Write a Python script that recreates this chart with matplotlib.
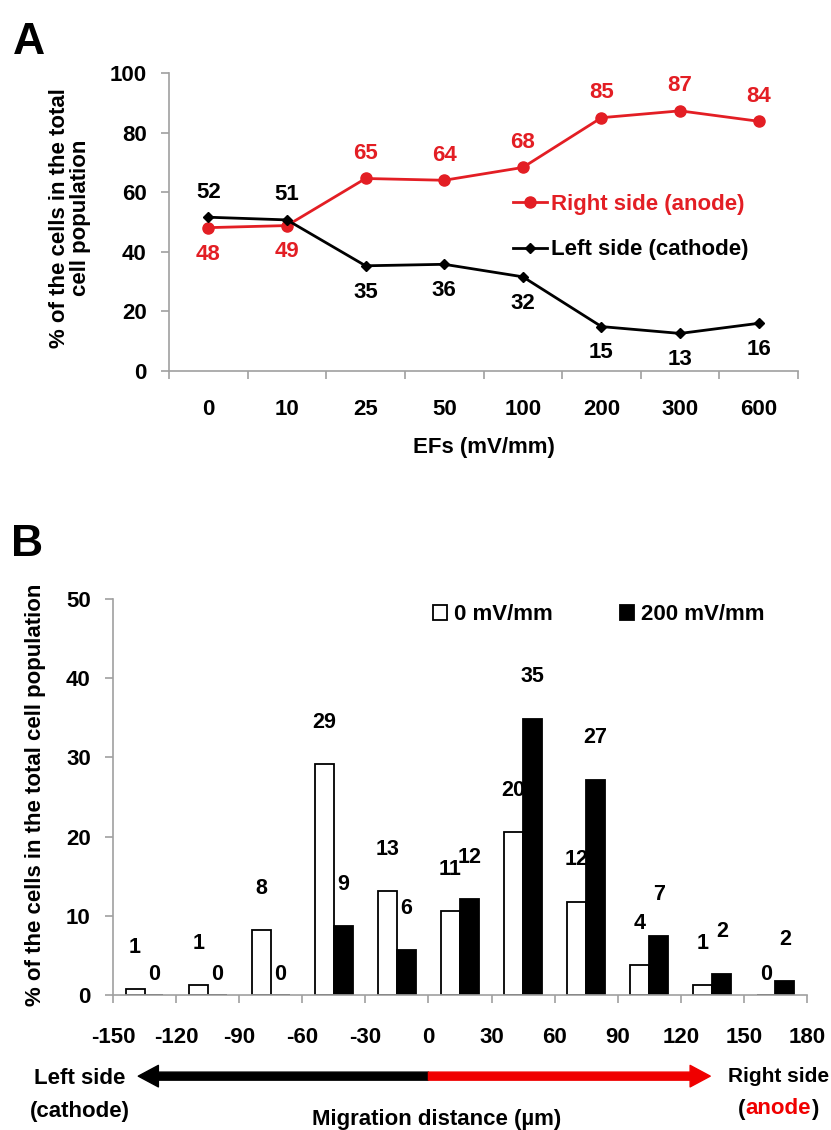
import numpy as np
import matplotlib.pyplot as plt

plt.rcParams['font.family'] = ['Liberation Sans', 'DejaVu Sans']
plt.rcParams['font.weight'] = 'bold'
plt.rcParams['font.size'] = 16
plt.rcParams['axes.unicode_minus'] = False

# ---- panel A data ----
ef_labels = ['0', '10', '25', '50', '100', '200', '300', '600']
right_side = [48.1, 48.8, 64.6, 64.0, 68.3, 85.0, 87.3, 83.8]
left_side = [51.6, 50.7, 35.3, 35.8, 31.6, 14.9, 12.6, 16.0]
right_text = [48, 49, 65, 64, 68, 85, 87, 84]
left_text = [52, 51, 35, 36, 32, 15, 13, 16]

# ---- panel B data ----
dist_ticks = [-150, -120, -90, -60, -30, 0, 30, 60, 90, 120, 150, 180]
field_0 = [0.7, 1.3, 8.2, 29.2, 13.1, 10.6, 20.6, 11.8, 3.8, 1.3, 0.0]
field_200 = [0.0, 0.0, 0.0, 8.7, 5.7, 12.1, 34.9, 27.2, 7.4, 2.7, 1.8]
field_0_text = [1, 1, 8, 29, 13, 11, 20, 12, 4, 1, 0]
field_200_text = [0, 0, 0, 9, 6, 12, 35, 27, 7, 2, 2]

RED = '#E31E24'
ARROW_RED = '#F00000'
GRID = '#A0A0A0'

fig = plt.figure(figsize=(8.31, 11.3), dpi=100)


def style_axes(ax):
    for s in ['top', 'right']:
        ax.spines[s].set_visible(False)
    for s in ['left', 'bottom']:
        ax.spines[s].set_color(GRID)
        ax.spines[s].set_linewidth(1.2)
    ax.tick_params(color=GRID, width=1.2, length=6, labelsize=16)


# ================= A =================
axA = fig.add_axes([0.2034, 0.6717, 0.7569, 0.2637])
x = np.arange(len(ef_labels))
axA.plot(x, right_side, color=RED, lw=2, marker='o', ms=8, label='Right side (anode)')
axA.plot(x, left_side, color='black', lw=2, marker='D', ms=5, label='Left side (cathode)')
axA.set_xlim(-0.5, len(ef_labels) - 0.5)
axA.set_ylim(0, 100)
axA.set_yticks(range(0, 101, 20))
axA.set_xticks(x)
axA.set_xticklabels(ef_labels)
axA.set_xticks(np.arange(-0.5, len(ef_labels), 1), minor=True)
style_axes(axA)
axA.tick_params(axis='x', which='major', length=0, pad=20)
axA.tick_params(axis='x', which='minor', length=6, color=GRID, width=1.2)
axA.tick_params(axis='y', pad=10)

for i in range(len(x)):
    up_r = right_side[i] > left_side[i]
    axA.annotate(str(right_text[i]), (x[i], right_side[i]), textcoords='offset points',
                 xytext=(0, 18 if up_r else -19), ha='center', va='center', color=RED)
    axA.annotate(str(left_text[i]), (x[i], left_side[i]), textcoords='offset points',
                 xytext=(0, 18 if not up_r else -19), ha='center', va='center', color='black')

legA = axA.legend(loc='upper left', bbox_to_anchor=(513 / 831, 1 - 194 / 1130),
                  bbox_transform=fig.transFigure, frameon=False, borderpad=0,
                  borderaxespad=0, handlelength=1.55, handletextpad=0.15,
                  labelspacing=1.1, fontsize=16)
legA.get_texts()[0].set_color(RED)

fig.text(484 / 831, 1 - 447 / 1130, 'EFs (mV/mm)', ha='center', va='center', fontsize=16)
fig.text(70 / 831, 1 - 218 / 1130, '% of the cells in the total\ncell population',
         rotation=90, ha='center', va='center', fontsize=16, linespacing=1.0)
fig.text(29 / 831, 1 - 43 / 1130, 'A', ha='center', va='center', fontsize=32)

# ================= B =================
axB = fig.add_axes([0.136, 0.1195, 0.8351, 0.3504])
centers = np.array(dist_ticks[:-1]) + 15
w = 9
axB.bar(centers - w / 2, field_0, width=w, color='white', edgecolor='black', lw=1.3,
        label='0 mV/mm')
axB.bar(centers + w / 2, field_200, width=w, color='black', edgecolor='black', lw=1.3,
        label='200 mV/mm')
axB.set_xlim(dist_ticks[0], dist_ticks[-1])
axB.set_ylim(0, 50)
axB.set_xticks(dist_ticks)
axB.set_yticks(range(0, 51, 10))
style_axes(axB)
axB.tick_params(axis='x', pad=17)
axB.tick_params(axis='y', pad=10)

for c, v, t in zip(centers, field_0, field_0_text):
    axB.annotate(str(t), (c - w / 2, v), textcoords='offset points',
                 xytext=(0, 15 if t == 0 else 30), ha='center', va='center', fontsize=15.5)
for c, v, t in zip(centers, field_200, field_200_text):
    axB.annotate(str(t), (c + w / 2, v), textcoords='offset points',
                 xytext=(0, 15 if t == 0 else 30), ha='center', va='center', fontsize=15.5)

axB.legend(loc='upper left', bbox_to_anchor=(433 / 831, 1 - 604 / 1130),
           bbox_transform=fig.transFigure, ncol=2, frameon=False, borderpad=0,
           borderaxespad=0, handlelength=0.65, handleheight=0.65, handletextpad=0.3,
           columnspacing=3.0, fontsize=16)

# arrow below the axis
trans = axB.get_xaxis_transform()
ay = -0.205
arrow_style = 'simple,head_length=1.45,head_width=1.55,tail_width=0.58'
axB.annotate('', xy=(-138, ay), xytext=(0, ay), xycoords=trans, textcoords=trans,
             annotation_clip=False,
             arrowprops=dict(arrowstyle=arrow_style, mutation_scale=10, color='black',
                             shrinkA=0, shrinkB=0))
axB.annotate('', xy=(134, ay), xytext=(0, ay), xycoords=trans, textcoords=trans,
             annotation_clip=False,
             arrowprops=dict(arrowstyle=arrow_style, mutation_scale=10, color=ARROW_RED,
                             shrinkA=0, shrinkB=0))

fig.text(80 / 831, 1 - 1078 / 1130, 'Left side', ha='center', va='center', fontsize=16)
fig.text(80 / 831, 1 - 1111 / 1130, '(cathode)', ha='center', va='center', fontsize=16)
fig.text(829 / 831, 1 - 1077 / 1130, 'Right side', ha='right', va='center', fontsize=15)
t1 = fig.text(738 / 831, 1 - 1109 / 1130, '(', ha='left', va='center', fontsize=16)
t2 = axB.annotate('anode', xy=(1, 0), xycoords=t1, ha='left', va='bottom',
                  color=ARROW_RED, fontsize=16)
axB.annotate(')', xy=(1, 0), xycoords=t2, ha='left', va='bottom', fontsize=16)
fig.text(437 / 831, 1 - 1120 / 1130, 'Migration distance (µm)', ha='center', va='center',
         fontsize=16)
fig.text(36 / 831, 1 - 795 / 1130, '% of the cells in the total cell population',
         rotation=90, ha='center', va='center', fontsize=16)
fig.text(27 / 831, 1 - 544 / 1130, 'B', ha='center', va='center', fontsize=32)

fig.savefig('out.png', dpi=100)
